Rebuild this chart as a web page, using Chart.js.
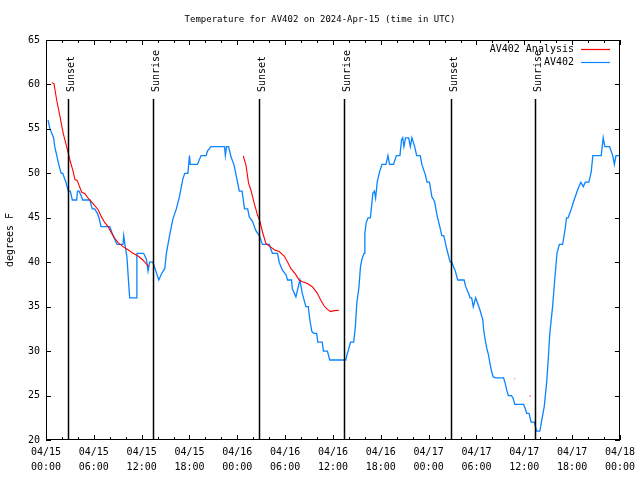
<!DOCTYPE html>
<html>
<head>
<meta charset="utf-8">
<script src="https://cdn.jsdelivr.net/npm/chart.js@4/dist/chart.umd.min.js"></script>
<style>
  body { margin: 0; background: #fff; }
  canvas { display: block; }
</style>
</head>
<body>
<canvas id="tempChart" width="640" height="480"></canvas>
<script>
// hours since 2024-04-15 00:00 UTC
var stationHours = [0.25, 0.5, 0.95, 1.1, 1.35, 1.6, 1.9, 2.1, 2.5, 2.8, 3.05, 3.3, 3.85, 3.95, 4.15, 4.45, 4.6, 5.5, 5.8, 6.1,
    6.45, 6.65, 6.9, 8.0, 8.4, 8.9, 9.65, 9.75, 9.9, 10.15, 10.4, 10.5, 11.35, 11.4, 12.25, 12.6, 12.8, 13.0, 13.4, 13.6,
    14.15, 14.5, 14.9, 15.1, 15.5, 15.9, 16.35, 16.75, 17.15, 17.4, 17.8, 17.9, 18.0, 18.1, 19.0, 19.45, 20.1, 20.25, 20.7, 22.4,
    22.5, 22.65, 22.9, 23.2, 23.6, 24.05, 24.25, 24.6, 24.9, 25.3, 25.5, 25.9, 26.3, 26.75, 27.15, 28.0, 28.4, 29.05, 29.25, 29.65,
    30.1, 30.3, 30.8, 30.9, 31.35, 31.85, 32.15, 32.6, 32.9, 33.1, 33.35, 33.6, 33.95, 34.1, 34.65, 34.8, 35.3, 35.6, 37.6, 37.8,
    37.9, 38.2, 38.6, 38.8, 39.0, 39.25, 39.45, 39.65, 39.9, 40.0, 40.15, 40.4, 40.7, 40.85, 41.0, 41.2, 41.35, 41.55, 41.85, 42.15,
    42.65, 42.9, 43.1, 43.6, 43.95, 44.4, 44.6, 44.75, 44.9, 45.1, 45.5, 45.7, 45.9, 46.25, 46.5, 46.95, 47.15, 47.6, 47.8, 48.1,
    48.4, 48.75, 49.05, 49.45, 49.65, 49.9, 50.3, 50.7, 50.9, 51.35, 51.65, 52.45, 52.65, 53.0, 53.2, 53.4, 53.6, 53.9, 54.1, 54.45,
    54.8, 54.9, 55.1, 55.3, 55.5, 55.7, 55.9, 56.1, 56.45, 57.4, 57.6, 57.8, 58.0, 58.4, 58.6, 58.8, 59.9, 60.1, 60.3, 60.6,
    60.85, 61.25, 61.4, 61.55, 61.95, 62.15, 62.5, 62.8, 63.0, 63.2, 63.55, 63.85, 64.1, 64.4, 64.8, 64.9, 65.1, 65.3, 65.5, 65.9,
    66.25, 66.75, 67.1, 67.4, 67.65, 68.1, 68.4, 68.6, 69.65, 69.9, 70.1, 70.7, 70.9, 71.1, 71.3, 71.5, 71.9];
var stationTemps = [56, 55, 54, 53, 52, 51, 50, 50, 49, 48, 48, 47, 47, 48, 48, 47.4, 47, 47, 46, 46,
    45.5, 45, 44, 44, 43, 42, 42, 43, 42, 40.6, 37.2, 36, 36, 41, 41, 40.3, 39, 40, 40, 39.5,
    38, 38.7, 39.3, 41, 43, 44.8, 46, 47.4, 49.3, 50, 50, 51, 52, 51, 51, 52, 52, 52.5, 53, 53,
    52, 53, 53, 51.9, 50.9, 48.9, 48, 48, 46, 46, 45.1, 44.6, 43.6, 43, 42, 42, 41, 41, 40, 39.1,
    38.6, 38, 38, 37, 36.1, 38, 36.5, 35, 35, 33.5, 32.2, 32, 32, 31, 31, 30, 30, 29, 29, 29.75,
    30, 31, 31, 32.7, 35.5, 37.1, 39.5, 40.4, 41, 43.2, 44.4, 45, 45, 46.4, 47.75, 48, 47.2, 49, 50.2, 51,
    51, 52, 51, 51, 52, 52, 53.75, 54, 53, 54, 54, 53, 54, 53, 52, 52, 51, 49.8, 49, 49,
    47.4, 46.8, 45.3, 43.8, 43, 43, 41.4, 40, 40, 39, 38, 38, 37.25, 36.5, 36, 36, 35, 36, 35.5, 34.6,
    33.5, 32.4, 31.25, 30.3, 29.6, 28.6, 27.7, 27.1, 27, 27, 26.4, 25.6, 25, 25, 24.7, 24, 24, 23.6, 23, 23,
    22, 22, 21.5, 21, 21, 22, 23.75, 26.4, 29, 32, 35, 38.4, 41, 42, 42, 42.5, 43.6, 45, 45, 46,
    47, 48.3, 49, 48.5, 49, 49, 50.2, 52, 52, 54, 53, 53, 52.5, 52, 51, 52, 52];

var analysisHours = [0.71, 1.0, 1.34, 1.75, 2.16, 2.59, 3.0, 3.41, 3.63, 3.9, 4.04, 4.46, 4.88, 5.29, 5.91, 6.54, 6.96, 7.38, 7.79, 8.21,
    8.63, 9.04, 9.66, 10.29, 10.91, 11.54, 12.16, 12.59, 12.91, 18,
    24.75, 25.09, 25.41, 25.71, 26.13, 26.54, 26.84, 27.16, 27.59, 28.21, 28.63, 29.25, 29.88, 30.29, 30.71, 31.34, 31.75, 32.16, 32.79, 33.41,
    34.04, 34.46, 34.88, 35.29, 35.71, 36.13, 36.75, 45,
    58.78, 58.85, 59.5, 60.65, 60.8];
var analysisTemps = [60.2, 60.1, 58.25, 56.4, 54.5, 53, 51.5, 50.2, 49.3, 49.2, 48.9, 47.9, 47.7, 47.2, 46.6, 45.9, 45.1, 44.45, 44, 43.3,
    42.7, 42.2, 41.75, 41.4, 41, 40.7, 40.25, 39.8, 39.5, null,
    51.95, 50.9, 48.9, 48.1, 46.6, 45.3, 44.6, 43.4, 42.1, 41.7, 41.4, 41.2, 40.7, 40.06, 39.3, 38.6, 38, 37.8, 37.6, 37.25,
    36.5, 35.75, 35.1, 34.7, 34.45, 34.55, 34.6, null,
    26.9, 26.9, null, 24.95, 24.95];

var sunHours = [2.78, 13.42, 26.76, 37.4, 50.78, 61.33];
var sunLabels = ['Sunset', 'Sunrise', 'Sunset', 'Sunrise', 'Sunset', 'Sunrise'];

var tickDates = ['04/15', '04/15', '04/15', '04/15', '04/16', '04/16', '04/16', '04/16', '04/17', '04/17', '04/17', '04/17', '04/18'];
var tickTimes = ['00:00', '06:00', '12:00', '18:00', '00:00', '06:00', '12:00', '18:00', '00:00', '06:00', '12:00', '18:00', '00:00'];

var seriesNames = ['AV402 Analysis', 'AV402'];
var seriesColors = ['#ff0000', '#0a84ff'];

function toPoints(xs, ys) {
    return xs.map(function (h, i) { return { x: h, y: ys[i] }; });
}

Chart.defaults.font.family = "'DejaVu Sans Mono', monospace";
Chart.defaults.font.size = 10;
Chart.defaults.color = '#000';

// frame, ticks, sunrise/sunset lines and key, gnuplot style
var framePlugin = {
    id: 'framePlugin',
    afterDatasetsDraw: function (chart) {
        var ctx = chart.ctx;
        var a = chart.chartArea;
        var xs = chart.scales.x;
        var ys = chart.scales.y;
        ctx.save();
        ctx.strokeStyle = '#000';
        ctx.fillStyle = '#000';
        ctx.lineWidth = 1;

        ctx.beginPath();
        for (var h = 0; h <= 72; h += 2) {
            var px = Math.round(xs.getPixelForValue(h)) + 0.5;
            var len = (h % 6 === 0) ? 5 : 3;
            ctx.moveTo(px, a.bottom); ctx.lineTo(px, a.bottom - len);
            ctx.moveTo(px, a.top); ctx.lineTo(px, a.top + len);
        }
        for (var t = 20; t <= 65; t += 5) {
            var py = Math.round(ys.getPixelForValue(t)) + 0.5;
            ctx.moveTo(a.left, py); ctx.lineTo(a.left + 5, py);
            ctx.moveTo(a.right, py); ctx.lineTo(a.right - 5, py);
        }
        ctx.stroke();

        ctx.strokeRect(Math.round(a.left) + 0.5, Math.round(a.top) + 0.5,
            Math.round(a.right - a.left) - 1, Math.round(a.bottom - a.top) - 1);

        ctx.lineWidth = 1.5;
        ctx.font = "10px 'DejaVu Sans Mono', monospace";
        sunHours.forEach(function (h, i) {
            var px = Math.round(xs.getPixelForValue(h)) + 0.5;
            ctx.beginPath();
            ctx.moveTo(px, a.top + 59);
            ctx.lineTo(px, a.bottom);
            ctx.stroke();
            ctx.save();
            ctx.translate(px + 5, a.top + 52);
            ctx.rotate(-Math.PI / 2);
            ctx.textAlign = 'left';
            ctx.textBaseline = 'alphabetic';
            ctx.fillText(sunLabels[i], 0, 0);
            ctx.restore();
        });

        ctx.textAlign = 'right';
        ctx.textBaseline = 'middle';
        ctx.lineWidth = 1.2;
        seriesNames.forEach(function (name, i) {
            var ly = a.top + 9.5 + i * 13;
            ctx.fillText(name, 574, ly);
            ctx.strokeStyle = seriesColors[i];
            ctx.beginPath();
            ctx.moveTo(581, ly);
            ctx.lineTo(610, ly);
            ctx.stroke();
        });
        ctx.restore();
    }
};

var ctx = document.getElementById('tempChart').getContext('2d');
var myChart = new Chart(ctx, {
    type: 'line',
    data: {
        datasets: [{
            label: seriesNames[0],
            data: toPoints(analysisHours, analysisTemps),
            borderColor: seriesColors[0],
            borderWidth: 1.1,
            pointRadius: 0,
            tension: 0,
            spanGaps: false
        }, {
            label: seriesNames[1],
            data: toPoints(stationHours, stationTemps),
            borderColor: seriesColors[1],
            borderWidth: 1.3,
            pointRadius: 0,
            tension: 0
        }]
    },
    options: {
        responsive: false,
        animation: false,
        layout: { padding: 0 },
        plugins: {
            legend: { display: false },
            tooltip: { enabled: false },
            title: {
                display: true,
                text: 'Temperature for AV402 on 2024-Apr-15 (time in UTC)',
                font: { size: 9, weight: 'normal', lineHeight: 1.2 },
                padding: { top: 14.6, bottom: 14.6 },
                color: '#000'
            }
        },
        scales: {
            x: {
                type: 'linear',
                min: 0,
                max: 72,
                afterFit: function (scale) { scale.height = 40; },
                grid: { display: false, drawTicks: false, tickLength: 0 },
                border: { display: false },
                ticks: {
                    stepSize: 6,
                    autoSkip: false,
                    maxRotation: 0,
                    padding: 5,
                    font: { size: 10, lineHeight: 1.5 },
                    callback: function (value) {
                        var i = Math.round(value / 6);
                        return [tickDates[i], tickTimes[i]];
                    }
                }
            },
            y: {
                min: 20,
                max: 65,
                afterFit: function (scale) { scale.width = 46; },
                grid: { display: false, drawTicks: false, tickLength: 0 },
                border: { display: false },
                ticks: { stepSize: 5, padding: 6, font: { size: 10 } },
                title: {
                    display: true,
                    text: 'degrees F',
                    font: { size: 10 },
                    padding: { top: 4, bottom: 0 }
                }
            },
            yRight: {
                position: 'right',
                min: 20,
                max: 65,
                afterFit: function (scale) { scale.width = 18; },
                grid: { display: false, drawTicks: false },
                border: { display: false },
                ticks: { display: false }
            }
        }
    },
    plugins: [framePlugin]
});
</script>
</body>
</html>
